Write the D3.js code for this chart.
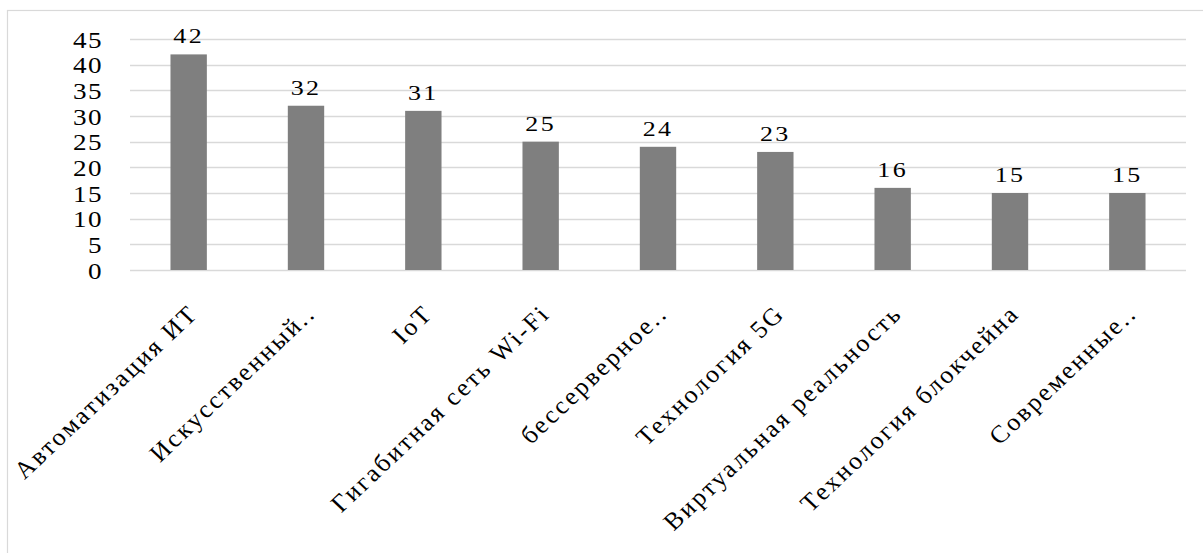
<!DOCTYPE html>
<html>
<head>
<meta charset="utf-8">
<script src="https://cdn.jsdelivr.net/npm/d3@7"></script>
<style>
  html, body { margin: 0; padding: 0; background: #ffffff; }
  svg { display: block; }
  text { font-family: "Liberation Serif", "Times New Roman", serif; fill: #000; }
</style>
</head>
<body>
<svg id="chart" width="1203" height="553"></svg>
<script>
// ---- data ----
const categories = [
  "Автоматизация ИТ",
  "Искусственный..",
  "IoT",
  "Гигабитная сеть Wi-Fi",
  "бессерверное..",
  "Технология 5G",
  "Виртуальная реальность",
  "Технология блокчейна",
  "Современные.."
];
const values = [42, 32, 31, 25, 24, 23, 16, 15, 15];
const yTicks = [0, 5, 10, 15, 20, 25, 30, 35, 40, 45];

// ---- layout ----
const W = 1203, H = 553;
const plot = { left: 130, right: 1186, top: 39, bottom: 270 };
const stretch = 1.18;      // horizontal stretch of numbers
const labelStretch = 1.06; // horizontal stretch of category labels

const svg = d3.select("#chart");

// outer frame
svg.append("rect")
  .attr("x", 7.5).attr("y", 10.5)
  .attr("width", W + 20).attr("height", H + 20)
  .attr("fill", "#ffffff")
  .attr("stroke", "#d9d9d9").attr("stroke-width", 1.2);

const x = d3.scaleBand()
  .domain(categories)
  .range([plot.left, plot.right])
  .paddingInner(0.69)
  .paddingOuter(0.345);

const y = d3.scaleLinear()
  .domain([0, 45])
  .range([plot.bottom, plot.top]);

// gridlines
svg.append("g").selectAll("line")
  .data(yTicks)
  .join("line")
  .attr("x1", plot.left).attr("x2", plot.right)
  .attr("y1", d => Math.round(y(d)) + 0.5)
  .attr("y2", d => Math.round(y(d)) + 0.5)
  .attr("stroke", "#d9d9d9").attr("stroke-width", 1.3);

// y tick labels
svg.append("g").selectAll("text")
  .data(yTicks)
  .join("text")
  .attr("transform", d => `translate(103,${y(d) + 8.5}) scale(${stretch},1)`)
  .attr("text-anchor", "end")
  .attr("font-size", 23)
  .attr("letter-spacing", 1.2)
  .text(d => d);

// bars
svg.append("g").selectAll("rect")
  .data(values)
  .join("rect")
  .attr("x", (d, i) => x(categories[i]))
  .attr("width", x.bandwidth())
  .attr("y", d => y(d))
  .attr("height", d => y(0) - y(d))
  .attr("fill", "#7f7f7f");

// value labels
svg.append("g").selectAll("text")
  .data(values)
  .join("text")
  .attr("transform", (d, i) =>
    `translate(${x(categories[i]) + x.bandwidth() / 2},${y(d) - 11}) scale(${stretch},1)`)
  .attr("text-anchor", "middle")
  .attr("font-size", 22)
  .attr("letter-spacing", 2)
  .text(d => d);

// category labels (rotated)
svg.append("g").selectAll("text")
  .data(categories)
  .join("text")
  .attr("transform", d =>
    `translate(${x(d) + x.bandwidth() / 2 + 11},315) scale(${labelStretch},1) rotate(-45)`)
  .attr("text-anchor", "end")
  .attr("font-size", 24.5)
  .attr("letter-spacing", 2.3)
  .text(d => d);
</script>
</body>
</html>
